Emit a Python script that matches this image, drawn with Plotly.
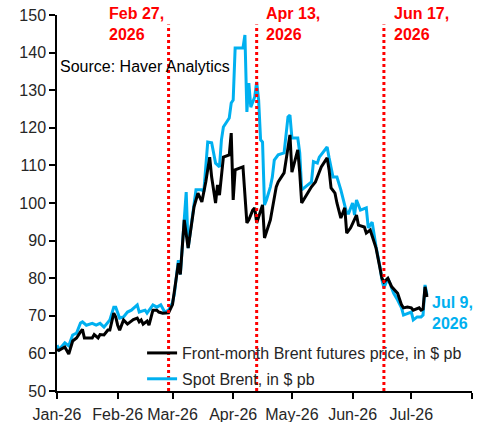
import plotly.graph_objects as go

# ---------------- data ----------------
spot_dates = [
    "2026-01-01", "2026-01-02", "2026-01-05", "2026-01-07", "2026-01-09", "2026-01-11", "2026-01-13",
    "2026-01-14", "2026-01-16", "2026-01-19", "2026-01-21", "2026-01-23", "2026-01-25", "2026-01-27",
    "2026-01-28", "2026-01-30", "2026-01-31", "2026-02-02", "2026-02-04", "2026-02-06", "2026-02-08",
    "2026-02-11", "2026-02-12", "2026-02-15", "2026-02-16", "2026-02-19", "2026-02-21", "2026-02-23",
    "2026-02-25", "2026-02-27", "2026-03-01", "2026-03-02", "2026-03-03", "2026-03-04", "2026-03-05",
    "2026-03-06", "2026-03-07", "2026-03-08", "2026-03-09", "2026-03-12", "2026-03-13", "2026-03-16",
    "2026-03-17", "2026-03-19", "2026-03-21", "2026-03-23", "2026-03-25", "2026-03-26", "2026-03-27",
    "2026-03-30", "2026-03-31", "2026-04-01", "2026-04-02", "2026-04-06", "2026-04-07", "2026-04-08",
    "2026-04-09", "2026-04-10", "2026-04-12", "2026-04-13", "2026-04-14", "2026-04-15", "2026-04-16",
    "2026-04-17", "2026-04-18", "2026-04-20", "2026-04-21", "2026-04-22", "2026-04-24", "2026-04-27",
    "2026-04-29", "2026-04-30", "2026-05-01", "2026-05-04", "2026-05-05", "2026-05-06", "2026-05-09",
    "2026-05-11", "2026-05-12", "2026-05-14", "2026-05-15", "2026-05-17", "2026-05-19", "2026-05-20",
    "2026-05-22", "2026-05-24", "2026-05-26", "2026-05-29", "2026-05-30", "2026-06-01", "2026-06-02",
    "2026-06-03", "2026-06-05", "2026-06-08", "2026-06-09", "2026-06-11", "2026-06-13", "2026-06-15",
    "2026-06-16", "2026-06-17", "2026-06-19", "2026-06-20", "2026-06-22", "2026-06-24", "2026-06-26",
    "2026-06-27", "2026-06-29", "2026-07-01", "2026-07-02", "2026-07-04", "2026-07-06", "2026-07-07",
    "2026-07-08", "2026-07-09",
]
spot_values = [
    62.2, 61.0, 62.8, 62.0, 64.9, 65.4, 68.1,
    68.4, 67.5, 68.0, 67.5, 68.0, 67.0, 68.4,
    68.9, 72.3, 72.3, 69.4, 69.7, 71.0, 71.5,
    72.9, 71.0, 71.5, 70.7, 72.9, 72.3, 72.9,
    71.0, 71.5, 73.5, 76.0, 80.3, 84.8, 81.0,
    88.0, 95.0, 102.9, 88.0, 99.0, 103.5, 103.5,
    103.0, 116.2, 116.0, 110.6, 109.6, 116.8, 120.2,
    122.6, 126.6, 127.4, 141.2, 141.2, 144.7, 124.2,
    131.9, 125.5, 128.2, 132.2, 127.4, 116.8, 116.2,
    99.5, 100.8, 104.3, 106.9, 111.4, 112.8, 113.3,
    122.9, 123.4, 117.3, 117.3, 113.3, 103.5, 104.8,
    105.6, 111.0, 110.6, 112.2, 113.6, 114.9, 112.0,
    106.9, 106.9, 103.5, 97.3, 97.3, 100.0, 96.8,
    100.8, 98.1, 98.7, 93.4, 94.9, 88.3, 83.0,
    79.5, 77.4, 80.0, 78.7, 76.0, 74.2, 72.1,
    70.2, 70.7, 71.0, 68.9, 69.7, 69.7, 70.2,
    78.2, 75.5,
]

futures_dates = [
    "2026-01-01", "2026-01-02", "2026-01-05", "2026-01-07", "2026-01-09", "2026-01-11", "2026-01-13",
    "2026-01-14", "2026-01-15", "2026-01-17", "2026-01-19", "2026-01-20", "2026-01-22", "2026-01-23",
    "2026-01-25", "2026-01-27", "2026-01-28", "2026-01-30", "2026-01-31", "2026-02-01", "2026-02-02",
    "2026-02-04", "2026-02-06", "2026-02-09", "2026-02-11", "2026-02-12", "2026-02-13", "2026-02-14",
    "2026-02-16", "2026-02-17", "2026-02-19", "2026-02-21", "2026-02-22", "2026-02-24", "2026-02-26",
    "2026-02-27", "2026-03-01", "2026-03-02", "2026-03-03", "2026-03-04", "2026-03-05", "2026-03-06",
    "2026-03-07", "2026-03-09", "2026-03-12", "2026-03-14", "2026-03-16", "2026-03-18", "2026-03-20",
    "2026-03-21", "2026-03-23", "2026-03-24", "2026-03-25", "2026-03-27", "2026-03-30", "2026-03-31",
    "2026-04-01", "2026-04-02", "2026-04-06", "2026-04-08", "2026-04-09", "2026-04-11", "2026-04-12",
    "2026-04-13", "2026-04-16", "2026-04-17", "2026-04-18", "2026-04-20", "2026-04-23", "2026-04-24",
    "2026-04-27", "2026-04-29", "2026-04-30", "2026-05-01", "2026-05-04", "2026-05-05", "2026-05-06",
    "2026-05-09", "2026-05-11", "2026-05-13", "2026-05-16", "2026-05-19", "2026-05-20", "2026-05-21",
    "2026-05-23", "2026-05-24", "2026-05-26", "2026-05-28", "2026-05-29", "2026-05-31", "2026-06-03",
    "2026-06-04", "2026-06-07", "2026-06-08", "2026-06-10", "2026-06-13", "2026-06-16", "2026-06-17",
    "2026-06-19", "2026-06-21", "2026-06-24", "2026-06-26", "2026-06-27", "2026-06-29", "2026-07-01",
    "2026-07-02", "2026-07-05", "2026-07-06", "2026-07-07", "2026-07-08", "2026-07-09",
]
futures_values = [
    61.0, 60.8, 61.7, 59.8, 63.3, 64.1, 65.7,
    66.4, 64.1, 64.1, 64.1, 65.0, 64.1, 65.0,
    64.9, 66.2, 66.2, 70.7, 69.7, 67.5, 66.2,
    68.9, 67.8, 69.0, 69.4, 68.4, 68.9, 67.8,
    68.6, 67.5, 71.5, 71.5, 71.0, 70.7, 70.7,
    70.8, 73.0, 77.0, 80.5, 84.0, 81.0, 88.0,
    95.5, 88.0, 99.0, 102.6, 100.3, 105.6, 112.2,
    106.9, 100.0, 104.8, 102.1, 112.2, 112.8, 118.6,
    100.8, 108.8, 109.6, 94.7, 95.5, 98.1, 98.7,
    94.7, 99.5, 90.7, 92.3, 95.5, 104.3, 105.6,
    108.0, 114.1, 118.1, 108.2, 114.1, 108.0, 100.0,
    102.6, 104.3, 105.6, 109.6, 112.0, 108.8, 104.0,
    102.6, 100.0, 96.0, 98.7, 92.0, 93.4, 96.8,
    94.1, 93.6, 92.0, 92.8, 88.0, 80.0, 79.0,
    80.0, 77.7, 76.0, 72.9, 72.1, 72.3, 72.1,
    71.5, 72.1, 71.5, 71.8, 77.7, 75.0,
]

futures_name = "Front-month Brent futures price, in $ pb"
spot_name = "Spot Brent, in $ pb"

event_dates = ["2026-02-27", "2026-04-13", "2026-06-17"]
event_labels = ["Feb 27,<br>2026", "Apr 13,<br>2026", "Jun 17,<br>2026"]
end_label = "Jul 9,<br>2026"
source_text = "Source: Haver Analytics"

tick_dates = ["2026-01-01", "2026-02-01", "2026-03-01", "2026-04-01", "2026-05-01",
              "2026-06-01", "2026-07-01", "2026-08-01"]
tick_labels = ["Jan-26", "Feb-26", "Mar-26", "Apr-26", "May-26", "Jun-26", "Jul-26", ""]

# ---------------- style ----------------
FONT = "Liberation Sans, Arial, sans-serif"
BLUE = "#00B0F0"
BLACK = "#000000"
RED = "#FF0000"
TXT = "#262626"

fig = go.Figure()
fig.add_trace(go.Scatter(x=spot_dates, y=spot_values, mode="lines", name=spot_name,
                         line=dict(color=BLUE, width=3), legend="legend2"))
fig.add_trace(go.Scatter(x=futures_dates, y=futures_values, mode="lines", name=futures_name,
                         line=dict(color=BLACK, width=3), legend="legend"))

for d, lab, anchor, shift in zip(event_dates, event_labels, ["right", "left", "left"], [-3, 7, 8]):
    fig.add_shape(type="line", xref="x", yref="y", x0=d, x1=d, y0=50, y1=147.5,
                  line=dict(color=RED, width=3, dash="dot"), layer="above")
    fig.add_annotation(x=d, xref="x", y=1.032, yref="paper", text=lab, showarrow=False,
                       xanchor=anchor, yanchor="top", xshift=shift, align="left",
                       font=dict(family=FONT, size=16, color=RED, weight="bold"))

fig.add_annotation(x=spot_dates[-1], y=spot_values[-1], xref="x", yref="y", text=end_label,
                   showarrow=False, xanchor="left", yanchor="middle", xshift=3, yshift=-18,
                   align="left", font=dict(family=FONT, size=16, color=BLUE, weight="bold"))

fig.add_annotation(x=0, y=0.862, xref="paper", yref="paper", text=source_text, showarrow=False,
                   xanchor="left", yanchor="middle", xshift=1,
                   font=dict(family=FONT, size=16, color=BLACK))

fig.update_layout(
    width=480, height=422,
    margin=dict(l=57, r=8, t=15, b=31, autoexpand=False),
    paper_bgcolor="white", plot_bgcolor="white",
    font=dict(family=FONT, size=16, color=TXT),
    showlegend=True,
    legend=dict(x=0.205, y=0.101, xanchor="left", yanchor="middle",
                bgcolor="rgba(0,0,0,0)", font=dict(family=FONT, size=16, color=TXT)),
    legend2=dict(x=0.205, y=-0.013, xanchor="left", yanchor="bottom",
                 bgcolor="rgba(0,0,0,0)", font=dict(family=FONT, size=16, color=TXT)),
    xaxis=dict(type="date", range=["2026-01-01", "2026-08-01"], tickmode="array",
               tickvals=tick_dates, ticktext=tick_labels, showgrid=False, zeroline=False,
               showline=True, linecolor="black", linewidth=1.5, ticks="outside",
               ticklen=6, tickwidth=1.5, tickcolor="black", ticklabelstandoff=2,
               tickfont=dict(family=FONT, size=16, color=TXT)),
    yaxis=dict(range=[50, 150], dtick=10, showgrid=False, zeroline=False,
               showline=True, linecolor="black", linewidth=1.5, ticks="outside",
               ticklen=6, tickwidth=1.5, tickcolor="black",
               tickfont=dict(family=FONT, size=16, color=TXT)),
)

fig.write_html("out.html")
